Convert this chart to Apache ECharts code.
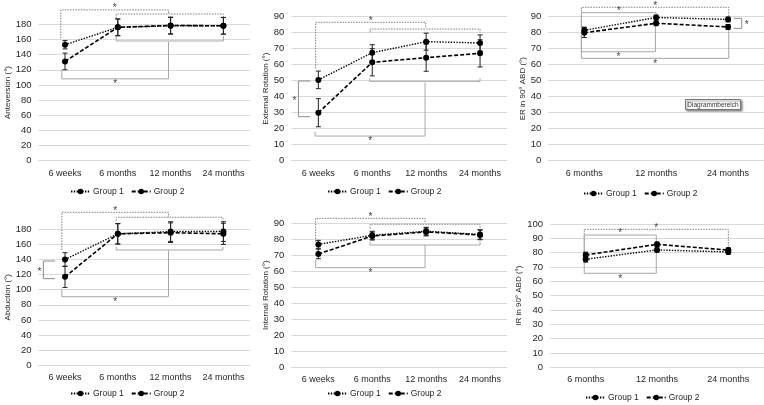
<!DOCTYPE html>
<html><head><meta charset="utf-8">
<script src="https://cdn.jsdelivr.net/npm/echarts@6/dist/echarts.min.js"></script>
<style>html,body{margin:0;padding:0;background:#fff}#c{width:764px;height:405px}</style>
</head><body><div id="c"></div>
<script>
// ---------- categories ----------
const cats4 = ['6 weeks', '6 months', '12 months', '24 months'];
const cats3 = ['6 months', '12 months', '24 months'];
const seriesNames = ['Group 1', 'Group 2'];

// ---------- Anteversion ----------
const anteG1 = [153, 176, 178, 178];
const anteG1Err = [5.5, 11, 11, 11];
const anteG2 = [131, 176, 178.5, 178];
const anteG2Err = [11, 11, 11, 11];
// brackets: [xStart, xEnd, yBar, yLegStart, yLegEnd, star]
const anteDotted = [[-0.08, 1.96, 199, 161.5, 194, 1], [0.97, 3, 193.6, 188, 188, 0]];
const anteSolid = [[0.97, 3, 158, 164.5, 164.5, 0], [-0.06, 1.96, 108, 120.5, 157, 1]];
const anteSide = [];

// ---------- External Rotation ----------
const erG1 = [50.5, 67.5, 74.4, 73.6];
const erG1Err = [5.5, 5, 5.3, 5];
const erG2 = [30, 61.5, 64.4, 67.1];
const erG2Err = [8.8, 8.5, 8.5, 8.5];
const erDotted = [[-0.05, 1.99, 86.5, 57.7, 83.4, 1], [0.96, 3, 82.3, 80.2, 80.2, 0]];
const erSolid = [[0.95, 3, 49.6, 51.5, 51.5, 0], [-0.06, 1.98, 15.4, 18.1, 48.8, 1]];
// side: [xVertical, xArmEnd, yTop, yBottom]
const erSide = [[-0.37, -0.15, 49.8, 27.5]];

// ---------- ER in 90° ABD ----------
const er90G1 = [81.5, 89.5, 88.3];
const er90G1Err = [2, 1.5, 1.5];
const er90G2 = [80, 85.9, 83.6];
const er90G2Err = [3, 1.5, 1.5];
const er90Dotted = [[-0.04, 2.01, 95.9, 83, 89, 1]];
const er90Solid = [[-0.04, 1.0, 92.5, 83, 90.4, 1], [-0.04, 0.99, 68.1, 78.6, 84.8, 1], [-0.04, 2.01, 64, 78.6, 82.1, 1]];
const er90Side = [[2.19, 2.08, 89, 82.7]];

// ---------- Abduction ----------
const abdG1 = [140, 174, 177, 177];
const abdG1Err = [9, 13.5, 13, 13];
const abdG2 = [117, 174, 175.5, 174];
const abdG2Err = [14, 13.5, 13, 14];
const abdDotted = [[-0.06, 1.96, 202.5, 152.6, 196, 1], [0.97, 2.99, 196, 191.4, 191.4, 0]];
const abdSolid = [[0.97, 2.99, 152.6, 157, 157, 0], [-0.06, 1.96, 90.7, 100.5, 151.7, 1]];
const abdSide = [[-0.41, -0.19, 138, 114.6]];

// ---------- Internal Rotation ----------
const irG1 = [76.8, 82.5, 85, 83];
const irG1Err = [2.5, 2.5, 2.5, 3];
const irG2 = [70.8, 82, 84.6, 82.7];
const irG2Err = [3, 2.5, 2.5, 3];
const irDotted = [[-0.05, 1.98, 93.1, 78.5, 90, 1], [0.96, 3, 89.4, 86.8, 86.8, 0]];
const irSolid = [[0.96, 3, 76.4, 78.5, 78.5, 0], [-0.05, 1.98, 62.2, 67, 76.4, 1]];
const irSide = [];

// ---------- IR in 90° ABD ----------
const ir90G1 = [75.4, 81.9, 80.5];
const ir90G1Err = [2, 1.5, 1.5];
const ir90G2 = [78.4, 85.8, 81.8];
const ir90G2Err = [2, 1.5, 1.5];
const ir90Dotted = [[-0.02, 2, 96.3, 79.5, 83.7, 1]];
const ir90Solid = [[-0.02, 0.99, 92.3, 79.5, 87, 1], [-0.02, 0.99, 65.6, 74.9, 81.9, 1]];
const ir90Side = [];

// ---------- layout / style ----------
const FONT = 'Liberation Sans, Arial, sans-serif';
const TXT = '#262626';
const GRIDC = '#d9d9d9';

const panels = [
  {cats: cats4, name: 'Anteversion (°)', max: 180, interval: 20, g1: anteG1, e1: anteG1Err, g2: anteG2, e2: anteG2Err, dotted: anteDotted, solid: anteSolid, side: anteSide,
   grid: {left: 38.6, top: 24.3, width: 211.2, height: 136.4}, legend: {left: 65, top: 182}, nameGap: 23},
  {cats: cats4, name: 'External Rotation (°)', max: 90, interval: 10, g1: erG1, e1: erG1Err, g2: erG2, e2: erG2Err, dotted: erDotted, solid: erSolid, side: erSide,
   grid: {left: 291.4, top: 16.7, width: 215.6, height: 144}, legend: {left: 322, top: 182}, nameGap: 21},
  {cats: cats3, name: 'ER in 90° ABD (°)', max: 90, interval: 10, g1: er90G1, e1: er90G1Err, g2: er90G2, e2: er90G2Err, dotted: er90Dotted, solid: er90Solid, side: er90Side,
   grid: {left: 548.3, top: 16.7, width: 216, height: 144}, legend: {left: 578, top: 184}, nameGap: 18},
  {cats: cats4, name: 'Abduction (°)', max: 180, interval: 20, g1: abdG1, e1: abdG1Err, g2: abdG2, e2: abdG2Err, dotted: abdDotted, solid: abdSolid, side: abdSide,
   grid: {left: 38.6, top: 229.3, width: 211.2, height: 135.9}, legend: {left: 65, top: 384}, nameGap: 23},
  {cats: cats4, name: 'Internal Rotation (°)', max: 90, interval: 10, g1: irG1, e1: irG1Err, g2: irG2, e2: irG2Err, dotted: irDotted, solid: irSolid, side: irSide,
   grid: {left: 291.4, top: 223.3, width: 215.6, height: 143.7}, legend: {left: 322, top: 384}, nameGap: 21},
  {cats: cats3, name: 'IR in 90° ABD (°)', max: 100, interval: 10, g1: ir90G1, e1: ir90G1Err, g2: ir90G2, e2: ir90G2Err, dotted: ir90Dotted, solid: ir90Solid, side: ir90Side,
   grid: {left: 550, top: 224, width: 215, height: 143.3}, legend: {left: 580, top: 388}, nameGap: 20}
];

function bandInfo(api, y) {
  const a = api.coord([0, y]), b = api.coord([1, y]);
  return {x0: a[0], band: b[0] - a[0], y: a[1]};
}

function bracketRender(dashed) {
  return function (params, api) {
    const x1 = api.value(0), x2 = api.value(1), yb = api.value(2), l1 = api.value(3), l2 = api.value(4), star = api.value(5);
    const bi = bandInfo(api, yb);
    const px1 = bi.x0 + x1 * bi.band, px2 = bi.x0 + x2 * bi.band;
    const py = bi.y;
    const pl1 = api.coord([0, l1])[1], pl2 = api.coord([0, l2])[1];
    const above = pl1 > py;
    const children = [{
      type: 'polyline',
      shape: {points: [[px1, pl1], [px1, py], [px2, py], [px2, pl2]]},
      style: {stroke: dashed ? '#7f7f7f' : '#a6a6a6', lineWidth: 1, fill: null, lineDash: dashed ? [1.5, 1.2] : null}
    }];
    if (star) {
      children.push({type: 'text', style: {text: '*', x: (px1 + px2) / 2, y: above ? py - 1.5 : py + 5.5,
        align: 'center', verticalAlign: 'middle', fill: '#444', font: '10px ' + FONT}});
    }
    return {type: 'group', children};
  };
}

function sideRender(params, api) {
  const xv = api.value(0), xa = api.value(1), yt = api.value(2), ybt = api.value(3);
  const bi = bandInfo(api, yt);
  const pv = bi.x0 + xv * bi.band, pa = bi.x0 + xa * bi.band;
  const pt = bi.y, pb = api.coord([0, ybt])[1];
  const starX = pa > pv ? pv - 4 : pv + 5;
  return {type: 'group', children: [
    {type: 'polyline', shape: {points: [[pa, pt], [pv, pt], [pv, pb], [pa, pb]]},
     style: {stroke: '#8c8c8c', lineWidth: 1, fill: null}},
    {type: 'text', style: {text: '*', x: starX, y: (pt + pb) / 2 + 2, align: 'center', verticalAlign: 'middle', fill: '#444', font: '10px ' + FONT}}
  ]};
}

function errRender(params, api) {
  const x = api.value(0);
  const lo = api.coord([x, api.value(1)]), hi = api.coord([x, api.value(2)]);
  const w = 2.5;
  const st = {stroke: '#222', lineWidth: 1};
  return {type: 'group', children: [
    {type: 'line', shape: {x1: lo[0], y1: lo[1], x2: hi[0], y2: hi[1]}, style: st},
    {type: 'line', shape: {x1: lo[0] - w, y1: lo[1], x2: lo[0] + w, y2: lo[1]}, style: st},
    {type: 'line', shape: {x1: hi[0] - w, y1: hi[1], x2: hi[0] + w, y2: hi[1]}, style: st}
  ]};
}

const grids = [], xAxes = [], yAxes = [], series = [], legends = [];
panels.forEach((p, i) => {
  grids.push(Object.assign({containLabel: false}, p.grid));
  xAxes.push({type: 'category', gridIndex: i, data: p.cats, boundaryGap: true, min: 0, max: p.cats.length - 1,
    axisLine: {show: true, lineStyle: {color: GRIDC}}, axisTick: {show: false},
    axisLabel: {color: TXT, fontSize: 9, fontFamily: FONT, margin: 8, interval: 0}});
  yAxes.push({type: 'value', gridIndex: i, min: 0, max: p.max, interval: p.interval,
    name: p.name, nameLocation: 'middle', nameRotate: 90, nameGap: p.nameGap,
    nameTextStyle: {color: TXT, fontSize: 8, fontFamily: FONT},
    axisLine: {show: false}, axisTick: {show: false},
    axisLabel: {color: TXT, fontSize: 9.5, fontFamily: FONT, margin: 7},
    splitLine: {show: true, lineStyle: {color: GRIDC, width: 1}}});
  series.push({type: 'custom', xAxisIndex: i, yAxisIndex: i, clip: false, z: 1, silent: true,
    renderItem: bracketRender(true), data: p.dotted});
  series.push({type: 'custom', xAxisIndex: i, yAxisIndex: i, clip: false, z: 1, silent: true,
    renderItem: bracketRender(false), data: p.solid});
  if (p.side.length) series.push({type: 'custom', xAxisIndex: i, yAxisIndex: i, clip: false, z: 1, silent: true,
    renderItem: sideRender, data: p.side});
  [[p.g1, p.e1], [p.g2, p.e2]].forEach(([v, e]) => {
    series.push({type: 'custom', xAxisIndex: i, yAxisIndex: i, clip: false, z: 2, silent: true,
      renderItem: errRender, data: v.map((val, k) => [k, val - e[k], val + e[k]])});
  });
  series.push({name: seriesNames[0], type: 'line', xAxisIndex: i, yAxisIndex: i, data: p.g1, z: 3,
    symbol: 'circle', symbolSize: 6, itemStyle: {color: '#000'},
    lineStyle: {color: '#000', width: 1.4, type: [1.4, 1.4]}});
  series.push({name: seriesNames[1], type: 'line', xAxisIndex: i, yAxisIndex: i, data: p.g2, z: 3,
    symbol: 'circle', symbolSize: 6, itemStyle: {color: '#000'},
    lineStyle: {color: '#000', width: 1.6, type: [4, 2]}});
  legends.push({data: seriesNames, left: p.legend.left, top: p.legend.top, orient: 'horizontal',
    itemWidth: 19, itemHeight: 7, itemGap: 7, selectedMode: false,
    textStyle: {color: TXT, fontSize: 8.5, fontFamily: FONT, padding: [0, 0, 0, -2]}});
});

const chart = echarts.init(document.getElementById('c'), null, {renderer: 'canvas'});
chart.setOption({
  animation: false,
  backgroundColor: '#fff',
  grid: grids, xAxis: xAxes, yAxis: yAxes, series, legend: legends,
  graphic: [{type: 'group', left: 685, top: 99, children: [
    {type: 'rect', shape: {x: 0, y: 0, width: 55, height: 10},
     style: {fill: '#fff', stroke: '#767676', lineWidth: 1, shadowBlur: 2, shadowOffsetX: 1.5, shadowOffsetY: 1.5, shadowColor: 'rgba(0,0,0,0.45)'}},
    {type: 'text', style: {text: 'Diagrammbereich', x: 27.5, y: 5.5, align: 'center', verticalAlign: 'middle', font: '6.5px ' + FONT, fill: '#333'}}
  ]}]
});
</script>
</body></html>
